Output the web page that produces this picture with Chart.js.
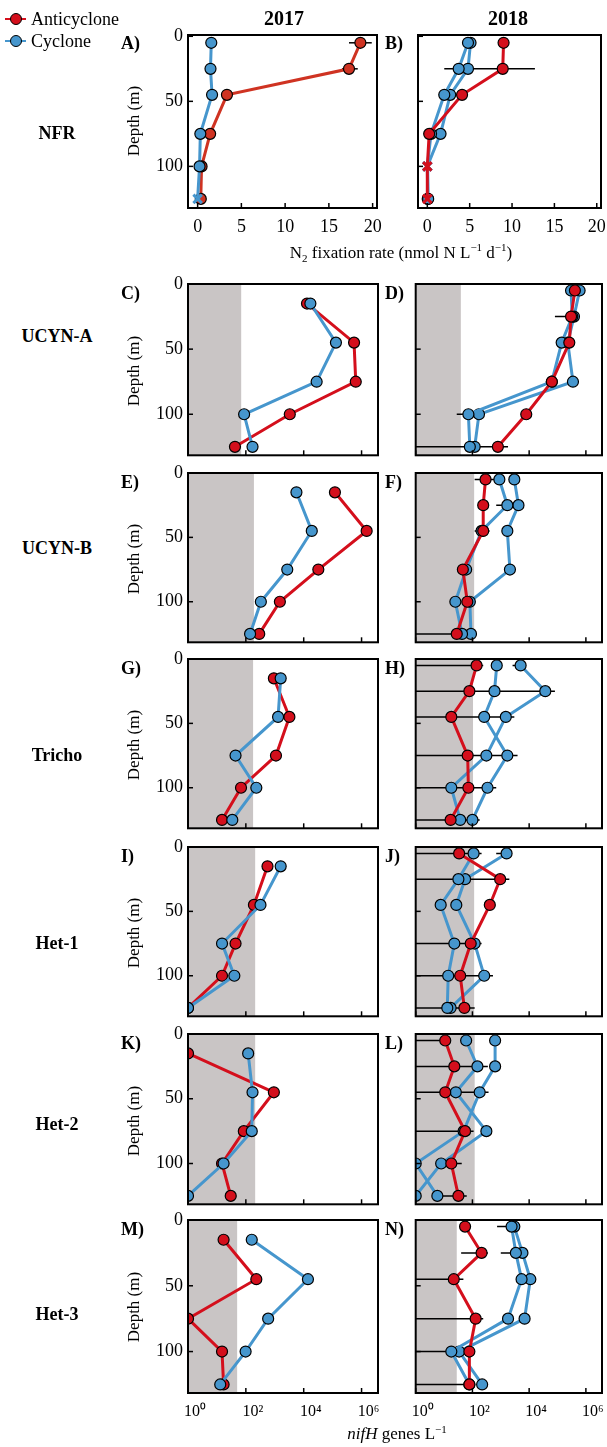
<!DOCTYPE html>
<html>
<head>
<meta charset="utf-8">
<script src="https://cdn.jsdelivr.net/npm/chart.js@4.4.1/dist/chart.umd.min.js"></script>
<style>
  body { margin: 0; background: #fff; }
  #fig { position: relative; width: 607px; height: 1447px; overflow: hidden;
         font-family: "Liberation Serif", "Times New Roman", serif; color: #000; }
  #fig canvas { position: absolute; }
  .t { position: absolute; white-space: nowrap; line-height: 1; transform: translate(-50%, -50%); }
  .year { font-weight: bold; font-size: 20px; }
  .rowlab { font-weight: bold; font-size: 18px; }
  .letter { font-weight: bold; font-size: 18px; transform: translate(0, -50%); }
  .depth { font-size: 17px; transform: translate(-50%, -50%) rotate(-90deg); }
  .xtitle { font-size: 17px; }
  .leg-line { position: absolute; height: 1.5px; width: 21px; left: 5px; }
  .leg-dot { position: absolute; width: 10px; height: 10px; left: 10px; border-radius: 50%; border: 1px solid #000; }
  .leg-txt { position: absolute; left: 31px; font-size: 18px; line-height: 1; transform: translate(0, -50%); }
</style>
</head>
<body>
<div id="fig"></div>
<script>
// depths (m)
const depthsNFR = [5, 25, 45, 75, 100, 125];
const depths2017 = [15, 45, 75, 100, 125];
const depths2018 = [5, 25, 45, 75, 100, 125];

// N2 fixation rate (nmol N L-1 d-1)
const nfr2017Anti = [18.6, 17.3, 3.35, 1.43, 0.45, 0.36];
const nfr2017Cyc = [1.56, 1.47, 1.65, 0.31, 0.22, 0];
const nfr2017CycBDL = [false, false, false, false, false, true];
const nfr2017Err = [[5, 17.3, 19.9], [25, 16.5, 18.3]];
const nfr2018Anti = [9.0, 8.9, 4.1, 0.22, 0, 0];
const nfr2018AntiBDL = [false, false, false, false, true, true];
const nfr2018Cyc1 = [4.8, 3.7, 2.0, 0.44, 0, 0.1];
const nfr2018Cyc2 = [5.1, 4.8, 2.7, 1.56, 0, 0.05];
const nfr2018CycBDL = [false, false, false, false, true, false];
const nfr2018Err = [[25, 2.0, 12.7]];

// nifH genes L-1 (0 = not detected)
const ucynA2017Anti = [1.3e4, 5.5e5, 6.3e5, 3.3e3, 42];
const ucynA2017Cyc = [1.7e4, 1.3e5, 2.8e4, 87, 170];
const ucynA2018Anti = [4.1e5, 3.0e5, 2.6e5, 6.3e4, 7.9e3, 790];
const ucynA2018Cyc1 = [3.0e5, 3.3e5, 1.4e5, 6.3e4, 72, 81];
const ucynA2018Cyc2 = [6.0e5, 3.8e5, 2.3e5, 3.5e5, 170, 120];
const ucynA2018Err = [[25, 8.1e4, 6.0e5], [100, 28, 110], [125, 0, 1.8e3]];

const ucynB2017Anti = [1.2e5, 1.5e6, 3.2e4, 1.5e3, 290];
const ucynB2017Cyc = [5.6e3, 1.9e4, 2.7e3, 330, 140];
const ucynB2018Anti = [290, 240, 240, 46, 66, 28];
const ucynB2018Cyc1 = [890, 1.7e3, 210, 60, 25, 43];
const ucynB2018Cyc2 = [3.0e3, 4.2e3, 1.7e3, 2.1e3, 81, 89];
const ucynB2018Err = [[5, 120, 630], [25, 690, 6.3e3], [45, 120, 400], [125, 0, 60]];

const tricho2017Anti = [930, 3.2e3, 1.1e3, 68, 15];
const tricho2017Cyc = [1.6e3, 1.3e3, 44, 230, 34];
const tricho2018Anti = [140, 78, 18, 68, 72, 17];
const tricho2018Cyc1 = [720, 600, 260, 1.7e3, 340, 100];
const tricho2018Cyc2 = [5.0e3, 3.7e4, 1.5e3, 310, 18, 37];
const tricho2018Err = [[5, 0, 240], [5, 2.6e3, 7.0e3], [25, 0, 8.1e4], [45, 0, 3.0e3],
                       [75, 0, 3.9e3], [100, 0, 690], [125, 0, 180]];

const het1_2017Anti = [560, 190, 44, 15, 0];
const het1_2017Cyc = [1.6e3, 320, 15, 40, 0];
const het1_2018Anti = [34, 950, 410, 87, 37, 52];
const het1_2018Cyc1 = [110, 32, 7.6, 23, 14, 13];
const het1_2018Cyc2 = [1.6e3, 55, 27, 120, 260, 17];
const het1_2018Err = [[5, 0, 210], [5, 690, 1.6e3], [25, 0, 2.0e3], [75, 0, 210],
                      [100, 0, 530], [125, 0, 120]];

const het2_2017Anti = [0, 930, 85, 15, 30];
const het2_2017Cyc = [120, 170, 160, 17, 0];
const het2_2018Anti = [11, 23, 11, 55, 18, 32];
const het2_2018Cyc1 = [60, 150, 26, 310, 7.9, 0];
const het2_2018Cyc2 = [630, 630, 180, 49, 0, 5.8];
const het2_2018Err = [[5, 0, 11], [25, 0, 350], [45, 0, 370], [75, 0, 110],
                      [100, 7.9, 42], [125, 5.8, 63]];

const het3_2017Anti = [17, 230, 0, 15, 17];
const het3_2017Cyc = [160, 1.4e4, 590, 98, 13];
const het3_2018Anti = [55, 210, 22, 130, 78, 78];
const het3_2018Cyc1 = [2.4e3, 3.4e3, 5.4e3, 1.8e3, 18, 78];
const het3_2018Cyc2 = [3.0e3, 5.8e3, 1.1e4, 6.9e3, 34, 220];
const het3_2018Err = [[5, 740, 4.0e3], [25, 40, 350], [25, 1.0e3, 6.0e3], [45, 0, 48],
                      [75, 0, 240], [100, 0, 100], [125, 0, 100]];

// detection limits (genes L-1), grey band
const detectLimit2017 = [69, 190, 178, 210, 210, 50];
const detectLimit2018 = [39, 115, 105, 115, 120, 28];

// ticks
const depthTicks = [0, 50, 100];
const nfrTicks = [0, 5, 10, 15, 20];
const logTicks = [1, 1e2, 1e4, 1e6];
const logTickLabels = ['10\u2070', '10\u00B2', '10\u2074', '10\u2076'];

const groupNames = ['NFR', 'UCYN-A', 'UCYN-B', 'Tricho', 'Het-1', 'Het-2', 'Het-3'];
const letters = ['A)', 'B)', 'C)', 'D)', 'E)', 'F)', 'G)', 'H)', 'I)', 'J)', 'K)', 'L)', 'M)', 'N)'];

const ANTI = '#d40f1c';
const ANTI_NFR = '#cf3322';
const CYC = '#4696cd';
const SHADE = '#c9c5c5';
const FONT = 'Liberation Serif';

const rowBoxes = [[34, 208], [284, 458], [473, 645], [659, 831], [847, 1019], [1034, 1207], [1220, 1393]];
const colBoxes = [[188, 378], [413, 602]];
const rowLabelY = [133, 336, 548, 755, 943, 1124, 1314];

const fig = document.getElementById('fig');

function addText(cls, html, x, y) {
  const el = document.createElement('div');
  el.className = 't ' + cls;
  el.innerHTML = html;
  el.style.left = x + 'px';
  el.style.top = y + 'px';
  fig.appendChild(el);
}

function series(depths, values, color, order, bdl, isLog) {
  const isBdl = (i) => !!(bdl && bdl[i]);
  return {
    data: depths.map((d, i) => ({ x: isLog ? Math.max(values[i], 1) : values[i], y: d })),
    showLine: true,
    borderColor: color,
    borderWidth: 3,
    order,
    pointStyle: (c) => isBdl(c.dataIndex) ? 'crossRot' : 'circle',
    pointRadius: (c) => isBdl(c.dataIndex) ? 6 : 5.5,
    pointBackgroundColor: color,
    pointBorderColor: (c) => isBdl(c.dataIndex) ? color : '#000',
    pointBorderWidth: (c) => isBdl(c.dataIndex) ? 3 : 1.2
  };
}

function makePanel(p) {
  const [boxT, boxB] = rowBoxes[p.row];
  const [boxL, boxR] = colBoxes[p.col];
  const showY = p.col === 0;
  const showX = p.row === 0 || p.row === 6;
  const YW = showY ? 60 : 4, PT = 8, PR = 8;
  const XH = showX ? 32 : 4;

  const cv = document.createElement('canvas');
  cv.width = YW + (boxR - boxL) + PR;
  cv.height = PT + (boxB - boxT) + XH;
  cv.style.left = (boxL - YW) + 'px';
  cv.style.top = (boxT - PT) + 'px';
  fig.appendChild(cv);

  const isLog = p.row > 0;
  const xTicks = isLog ? logTicks : nfrTicks;

  const deco = {
    id: 'deco' + p.letter,
    beforeDatasetsDraw(chart) {
      const { ctx, chartArea: a, scales } = chart;
      ctx.save();
      if (p.limit) {
        const xl = scales.x.getPixelForValue(p.limit);
        ctx.fillStyle = SHADE;
        ctx.fillRect(a.left, a.top, xl - a.left, a.bottom - a.top);
      }
      ctx.beginPath();
      ctx.rect(a.left, a.top, a.right - a.left, a.bottom - a.top);
      ctx.clip();
      ctx.strokeStyle = '#000';
      ctx.lineWidth = 1.5;
      (p.err || []).forEach(([d, lo, hi]) => {
        const y = scales.y.getPixelForValue(d);
        const x0 = lo > scales.x.min ? scales.x.getPixelForValue(lo) : a.left;
        const x1 = scales.x.getPixelForValue(hi);
        ctx.beginPath();
        ctx.moveTo(x0, y);
        ctx.lineTo(x1, y);
        ctx.stroke();
      });
      ctx.restore();
    },
    afterDatasetsDraw(chart) {
      const { ctx, chartArea: a, scales } = chart;
      ctx.save();
      ctx.strokeStyle = '#000';
      ctx.lineWidth = 1.5;
      xTicks.forEach(v => {
        const x = scales.x.getPixelForValue(v);
        ctx.beginPath(); ctx.moveTo(x, a.bottom); ctx.lineTo(x, a.bottom - 5); ctx.stroke();
      });
      depthTicks.forEach(v => {
        const y = scales.y.getPixelForValue(v);
        ctx.beginPath(); ctx.moveTo(a.left, y); ctx.lineTo(a.left + 5, y); ctx.stroke();
      });
      ctx.lineWidth = 2;
      ctx.strokeRect(a.left, a.top, a.right - a.left, a.bottom - a.top);
      ctx.restore();
    }
  };

  new Chart(cv, {
    type: 'scatter',
    data: { datasets: p.datasets },
    options: {
      responsive: false,
      animation: false,
      events: [],
      layout: { padding: { top: PT, right: PR, left: 0, bottom: 0 } },
      plugins: { legend: { display: false }, tooltip: { enabled: false } },
      scales: {
        x: {
          type: isLog ? 'logarithmic' : 'linear',
          min: isLog ? 1 : -1.1,
          max: isLog ? 3.7e6 : 20.5,
          grid: { display: false, drawTicks: false },
          border: { display: false },
          afterBuildTicks: (s) => { s.ticks = xTicks.map(v => ({ value: v })); },
          afterFit: (s) => { s.height = XH; s.paddingLeft = 0; s.paddingRight = 0; },
          ticks: {
            display: showX,
            autoSkip: false,
            maxRotation: 0,
            color: '#000',
            padding: isLog ? 9 : 8,
            labelOffset: isLog ? 7 : 0,
            font: { family: FONT, size: isLog ? 16 : 18 },
            callback: (v, i) => isLog ? logTickLabels[i] : String(nfrTicks[i])
          }
        },
        y: {
          type: 'linear',
          reverse: true,
          min: p.row === 0 ? -1 : 0,
          max: p.row === 0 ? 132 : 131.5,
          grid: { display: false, drawTicks: false },
          border: { display: false },
          afterBuildTicks: (s) => { s.ticks = depthTicks.map(v => ({ value: v })); },
          afterFit: (s) => { s.width = YW; s.paddingTop = 0; s.paddingBottom = 0; },
          ticks: {
            display: showY,
            color: '#000',
            padding: 5,
            font: { family: FONT, size: 18 },
            callback: (v, i) => String(depthTicks[i])
          }
        }
      }
    },
    plugins: [deco]
  });

  // panel letter
  addText('letter', p.letter, p.col === 0 ? 121 : 385, boxT + 9);
  if (showY) addText('depth', 'Depth (m)', 133, (boxT + boxB) / 2);
}

// row 1: N2 fixation
makePanel({
  row: 0, col: 0, letter: letters[0], err: nfr2017Err,
  datasets: [
    series(depthsNFR, nfr2017Cyc, CYC, 0, nfr2017CycBDL, false),
    series(depthsNFR, nfr2017Anti, ANTI_NFR, 1, null, false)
  ]
});
makePanel({
  row: 0, col: 1, letter: letters[1], err: nfr2018Err,
  datasets: [
    series(depthsNFR, nfr2018Anti, ANTI, 0, nfr2018AntiBDL, false),
    series(depthsNFR, nfr2018Cyc1, CYC, 1, nfr2018CycBDL, false),
    series(depthsNFR, nfr2018Cyc2, CYC, 2, nfr2018CycBDL, false)
  ]
});

// rows 2-7: nifH abundances
const genes2017Anti = [ucynA2017Anti, ucynB2017Anti, tricho2017Anti, het1_2017Anti, het2_2017Anti, het3_2017Anti];
const genes2017Cyc = [ucynA2017Cyc, ucynB2017Cyc, tricho2017Cyc, het1_2017Cyc, het2_2017Cyc, het3_2017Cyc];
const genes2018Anti = [ucynA2018Anti, ucynB2018Anti, tricho2018Anti, het1_2018Anti, het2_2018Anti, het3_2018Anti];
const genes2018Cyc1 = [ucynA2018Cyc1, ucynB2018Cyc1, tricho2018Cyc1, het1_2018Cyc1, het2_2018Cyc1, het3_2018Cyc1];
const genes2018Cyc2 = [ucynA2018Cyc2, ucynB2018Cyc2, tricho2018Cyc2, het1_2018Cyc2, het2_2018Cyc2, het3_2018Cyc2];
const genes2018Err = [ucynA2018Err, ucynB2018Err, tricho2018Err, het1_2018Err, het2_2018Err, het3_2018Err];

for (let g = 0; g < 6; g++) {
  const row = g + 1;
  makePanel({
    row, col: 0, letter: letters[row * 2], limit: detectLimit2017[g],
    datasets: [
      series(depths2017, genes2017Cyc[g], CYC, 0, null, true),
      series(depths2017, genes2017Anti[g], ANTI, 1, null, true)
    ]
  });
  makePanel({
    row, col: 1, letter: letters[row * 2 + 1], limit: detectLimit2018[g], err: genes2018Err[g],
    datasets: [
      series(depths2018, genes2018Anti[g], ANTI, 0, null, true),
      series(depths2018, genes2018Cyc1[g], CYC, 1, null, true),
      series(depths2018, genes2018Cyc2[g], CYC, 2, null, true)
    ]
  });
}

// titles and labels
addText('year', '2017', 284, 18);
addText('year', '2018', 508, 18);
groupNames.forEach((name, i) => addText('rowlab', name, 57, rowLabelY[i]));
addText('xtitle', 'N<sub style="font-size:11px">2</sub> fixation rate (nmol N L<sup style="font-size:11px">\u22121</sup> d<sup style="font-size:11px">\u22121</sup>)', 401, 253);
addText('xtitle', '<i>nifH</i> genes L<sup style="font-size:11px">\u22121</sup>', 397, 1433);

// legend
[['Anticyclone', ANTI, 19], ['Cyclone', CYC, 41]].forEach(([name, color, y]) => {
  const line = document.createElement('div');
  line.className = 'leg-line';
  line.style.top = (y - 0.75) + 'px';
  line.style.background = color;
  fig.appendChild(line);
  const dot = document.createElement('div');
  dot.className = 'leg-dot';
  dot.style.top = (y - 6) + 'px';
  dot.style.background = color;
  fig.appendChild(dot);
  const txt = document.createElement('div');
  txt.className = 'leg-txt';
  txt.style.top = y + 'px';
  txt.textContent = name;
  fig.appendChild(txt);
});
</script>
</body>
</html>
